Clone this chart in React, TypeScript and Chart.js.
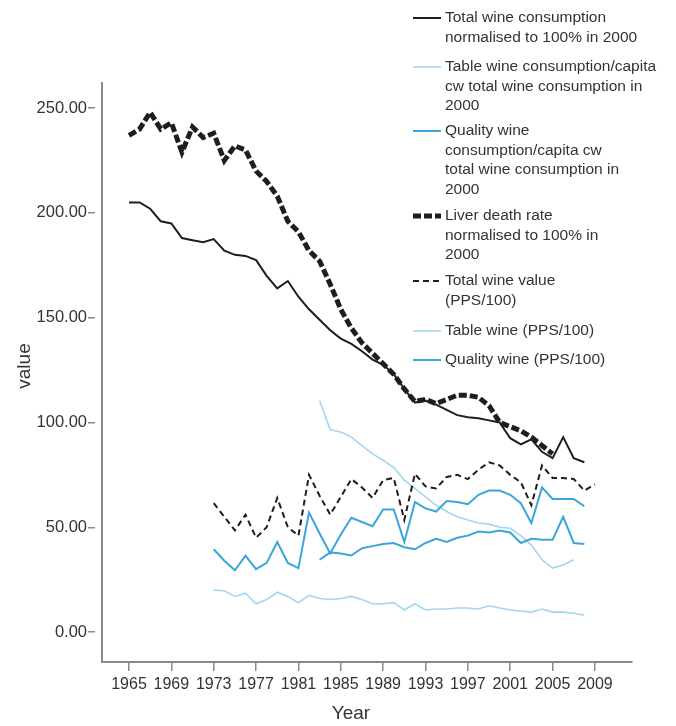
import React, { useEffect, useRef } from 'react';
import { Chart, registerables } from 'chart.js';

Chart.register(...registerables);

const FONT = '"Liberation Sans", Arial, Helvetica, sans-serif';

// ---- data ----
const consumptionYears = [1965, 1966, 1967, 1968, 1969, 1970, 1971, 1972, 1973, 1974, 1975, 1976, 1977, 1978, 1979, 1980, 1981, 1982, 1983, 1984, 1985, 1986, 1987, 1988, 1989, 1990, 1991, 1992, 1993, 1994, 1995, 1996, 1997, 1998, 1999, 2000, 2001, 2002, 2003, 2004, 2005, 2006, 2007, 2008];
const totalConsumption = [205, 205, 202, 196, 195, 188, 187, 186, 187.5, 182, 180, 179.5, 177.5, 170, 164, 167.5, 160, 154, 149, 144, 140, 137.5, 134, 130, 127.5, 123, 116, 109.5, 110.5, 108.5, 106, 103.5, 102.5, 102, 101, 100, 92.5, 89.5, 92, 86, 83, 93, 83, 81];

const liverYears = [1965, 1966, 1967, 1968, 1969, 1970, 1971, 1972, 1973, 1974, 1975, 1976, 1977, 1978, 1979, 1980, 1981, 1982, 1983, 1984, 1985, 1986, 1987, 1988, 1989, 1990, 1991, 1992, 1993, 1994, 1995, 1996, 1997, 1998, 1999, 2000, 2001, 2002, 2003, 2004, 2005];
const liverDeathRate = [237, 240, 248, 240, 243, 229, 241, 236, 238, 225, 232, 230, 220, 215, 208, 196, 191, 182, 177, 166, 154, 145, 138, 133, 128, 123, 116, 110, 111, 109, 111, 113, 113, 112, 108, 100, 98, 96, 93, 89, 85];

const valueYears = [1973, 1974, 1975, 1976, 1977, 1978, 1979, 1980, 1981, 1982, 1983, 1984, 1985, 1986, 1987, 1988, 1989, 1990, 1991, 1992, 1993, 1994, 1995, 1996, 1997, 1998, 1999, 2000, 2001, 2002, 2003, 2004, 2005, 2006, 2007, 2008, 2009];
const totalWineValue = [61.5, 55, 48.5, 56, 45, 50, 64, 50, 46, 75, 65, 56, 64.5, 73, 69, 64, 72.5, 73.5, 53.5, 75.5, 69.5, 68.5, 74, 75, 73, 77.5, 81, 79.5, 75, 71.5, 60.5, 79.5, 73.5, 73.5, 73, 67.5, 70.5];

const priceYears = [1973, 1974, 1975, 1976, 1977, 1978, 1979, 1980, 1981, 1982, 1983, 1984, 1985, 1986, 1987, 1988, 1989, 1990, 1991, 1992, 1993, 1994, 1995, 1996, 1997, 1998, 1999, 2000, 2001, 2002, 2003, 2004, 2005, 2006, 2007, 2008];
const qualityWinePrice = [39.5, 34, 29.5, 36.5, 30, 33, 43, 33, 30.5, 57, 47, 37.5, 46.5, 54.5, 52.5, 50.5, 58.5, 58.5, 43, 62, 59, 57.5, 62.5, 62, 61, 65.5, 67.5, 67.5, 65.5, 61.5, 52, 69, 63.5, 63.5, 63.5, 60];
const tableWinePrice = [20, 19.7, 17, 18.5, 13.5, 15.5, 19, 17, 14, 17.5, 16, 15.5, 16, 17, 15.5, 13.5, 13.5, 14, 10.5, 13.5, 10.5, 11, 11, 11.5, 11.5, 11, 12.5, 11.5, 10.5, 10, 9.5, 11, 9.5, 9.5, 9, 8];

const tableConsYears = [1983, 1984, 1985, 1986, 1987, 1988, 1989, 1990, 1991, 1992, 1993, 1994, 1995, 1996, 1997, 1998, 1999, 2000, 2001, 2002, 2003, 2004, 2005, 2006, 2007];
const tableWineConsumption = [110.5, 96.5, 95.5, 93, 89, 85, 82, 78.5, 72.5, 68.5, 64.5, 60.5, 57.5, 55, 53.5, 52, 51.5, 50, 49.5, 46, 41.5, 34.5, 30.5, 32, 34.5];

const qualityConsYears = [1983, 1984, 1985, 1986, 1987, 1988, 1989, 1990, 1991, 1992, 1993, 1994, 1995, 1996, 1997, 1998, 1999, 2000, 2001, 2002, 2003, 2004, 2005, 2006, 2007, 2008];
const qualityWineConsumption = [34.5, 38, 37.5, 36.5, 40, 41, 42, 42.5, 40.5, 39.5, 42.5, 44.5, 43, 45, 46, 48, 47.5, 48.5, 47.5, 42.5, 44.5, 44, 44, 55, 42.5, 42];

const xTickYears = [1965, 1969, 1973, 1977, 1981, 1985, 1989, 1993, 1997, 2001, 2005, 2009];
const yTickValues = [0, 50, 100, 150, 200, 250];

const seriesLabels = [
  ['Total wine consumption', 'normalised to 100% in 2000'],
  ['Table wine consumption/capita', 'cw total wine consumption in', '2000'],
  ['Quality wine', 'consumption/capita cw', 'total wine consumption in', '2000'],
  ['Liver death rate', 'normalised to 100% in', '2000'],
  ['Total wine value', '(PPS/100)'],
  ['Table wine (PPS/100)'],
  ['Quality wine (PPS/100)'],
];

const BLACK = '#1e1e1e';
const MID_BLUE = '#3aa6da';
const LIGHT_BLUE = '#a3d6ef';
const AXIS = '#8a8a8a';
const TEXT = '#333333';

const zip = (xs: number[], ys: number[]) => xs.map((x, i) => ({ x, y: ys[i] }));

const styles = [
  { color: BLACK, width: 2, dash: [] as number[] },
  { color: LIGHT_BLUE, width: 1.6, dash: [] as number[] },
  { color: MID_BLUE, width: 2, dash: [] as number[] },
  { color: BLACK, width: 5, dash: [8, 3] },
  { color: BLACK, width: 2, dash: [6, 4] },
  { color: LIGHT_BLUE, width: 1.6, dash: [] as number[] },
  { color: MID_BLUE, width: 2, dash: [] as number[] },
];

const legendFirstLineY = [18, 67, 131, 216, 281, 331, 360];

const overlayPlugin = {
  id: 'overlay',
  afterDraw(chart: any) {
    const ctx = chart.ctx as CanvasRenderingContext2D;
    ctx.save();
    ctx.fillStyle = TEXT;
    ctx.textBaseline = 'middle';
    // axis titles
    ctx.font = `19px ${FONT}`;
    ctx.textAlign = 'center';
    ctx.fillText('Year', 351, 714);
    ctx.save();
    ctx.translate(25, 366);
    ctx.rotate(-Math.PI / 2);
    ctx.fillText('value', 0, 0);
    ctx.restore();
    // legend
    ctx.font = `15.5px ${FONT}`;
    ctx.textAlign = 'left';
    seriesLabels.forEach((lines, i) => {
      const y0 = legendFirstLineY[i];
      const st = styles[i];
      ctx.save();
      ctx.strokeStyle = st.color;
      ctx.lineWidth = st.width;
      ctx.setLineDash(st.dash);
      ctx.beginPath();
      ctx.moveTo(413, y0);
      ctx.lineTo(441, y0);
      ctx.stroke();
      ctx.restore();
      lines.forEach((t, k) => {
        ctx.fillText(t, 445, y0 + k * 19.5);
      });
    });
    ctx.restore();
  },
};

export default function App() {
  const ref = useRef<HTMLCanvasElement | null>(null);
  useEffect(() => {
    if (!ref.current) return;
    const seriesData = [
      zip(consumptionYears, totalConsumption),
      zip(tableConsYears, tableWineConsumption),
      zip(qualityConsYears, qualityWineConsumption),
      zip(liverYears, liverDeathRate),
      zip(valueYears, totalWineValue),
      zip(priceYears, tableWinePrice),
      zip(priceYears, qualityWinePrice),
    ];
    const order = [2, 7, 5, 1, 3, 6, 4];
    const chart = new Chart(ref.current, {
      type: 'line',
      data: {
        datasets: seriesData.map((d, i) => ({
          label: seriesLabels[i].join(' '),
          data: d,
          borderColor: styles[i].color,
          borderWidth: styles[i].width,
          borderDash: styles[i].dash,
          pointRadius: 0,
          fill: false,
          tension: 0,
          order: order[i],
        })),
      },
      options: {
        animation: false,
        responsive: false,
        layout: { padding: { left: 0, top: 83, right: 44, bottom: 0 } },
        plugins: { legend: { display: false }, tooltip: { enabled: false } },
        scales: {
          x: {
            type: 'linear',
            min: 1962.45,
            max: 2012.5,
            afterBuildTicks: (s: any) => {
              s.ticks = xTickYears.map((v) => ({ value: v }));
            },
            afterFit: (s: any) => {
              s.height = 64;
            },
            border: { display: true, color: AXIS, width: 2 },
            grid: { drawOnChartArea: false, drawTicks: true, tickLength: 9, color: AXIS, lineWidth: 1.5 },
            ticks: {
              callback: (v: any) => String(v),
              font: { family: FONT, size: 16 },
              color: TEXT,
              padding: 4,
              maxRotation: 0,
              autoSkip: false,
            },
          },
          y: {
            type: 'linear',
            min: -14.3,
            max: 262,
            afterBuildTicks: (s: any) => {
              s.ticks = yTickValues.map((v) => ({ value: v }));
            },
            afterFit: (s: any) => {
              s.width = 102;
            },
            border: { display: true, color: AXIS, width: 2 },
            grid: {
              drawOnChartArea: false,
              drawTicks: true,
              tickLength: 14,
              tickBorderDash: [7, 20],
              color: AXIS,
              lineWidth: 1.5,
            },
            ticks: {
              callback: (v: any) => Number(v).toFixed(2),
              font: { family: FONT, size: 16.5 },
              color: TEXT,
              padding: 1,
            },
          },
        },
      },
      plugins: [overlayPlugin],
    } as any);
    return () => chart.destroy();
  }, []);
  return (
    <canvas
      ref={ref}
      width={676}
      height={726}
      style={{ position: 'absolute', left: 0, top: 0, width: 676, height: 726, display: 'block' }}
    />
  );
}
